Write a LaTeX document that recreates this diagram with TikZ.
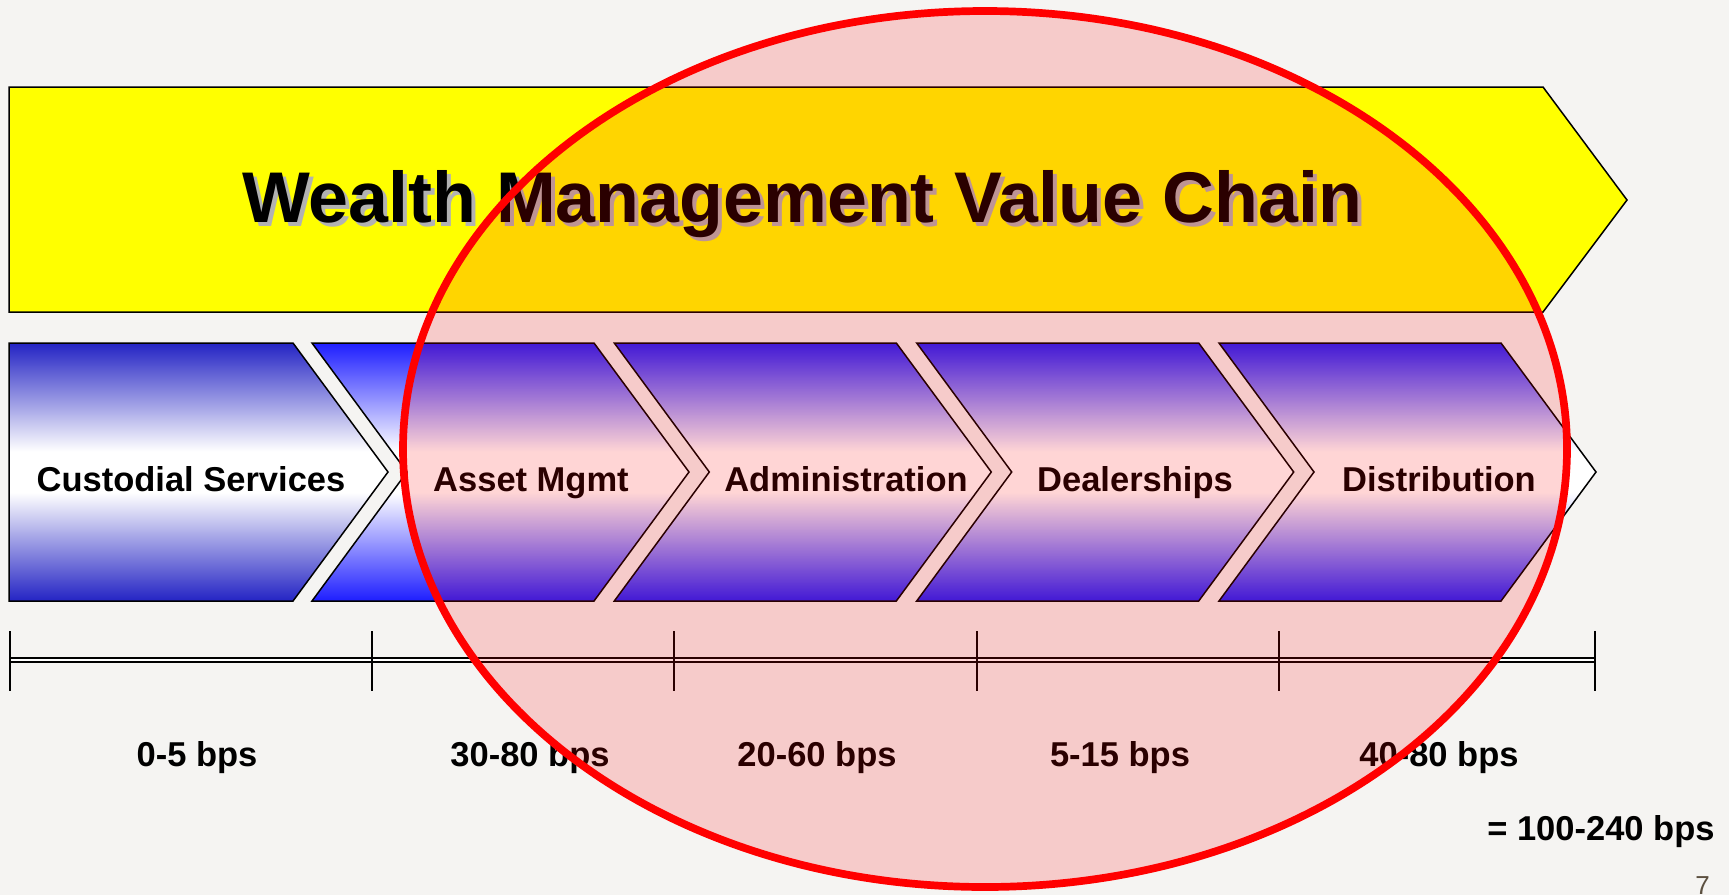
\documentclass[tikz,border=0pt]{standalone}
\usepackage{fontspec}
\setmainfont{Liberation Sans}
\definecolor{bgc}{RGB}{245,244,242}
\definecolor{yel}{RGB}{255,255,0}
\definecolor{custblue}{RGB}{36,36,196}
\definecolor{chevblue}{RGB}{30,30,255}
\definecolor{shadowgray}{RGB}{178,178,178}
\definecolor{pagenum}{RGB}{92,80,64}
\pgfdeclareverticalshading{custshade}{100bp}{color(0bp)=(custblue); color(25bp)=(custblue); color(46bp)=(white); color(54bp)=(white); color(75bp)=(custblue); color(100bp)=(custblue)}
\pgfdeclareverticalshading{chevshade}{100bp}{color(0bp)=(chevblue); color(25bp)=(chevblue); color(46bp)=(white); color(54bp)=(white); color(75bp)=(chevblue); color(100bp)=(chevblue)}
\begin{document}
\begin{tikzpicture}[x=0.5pt, y=-0.5pt,
  chevbox/.style={draw=black, line width=0.75pt, shading=chevshade},
  lbl/.style={anchor=base, inner sep=0pt, font=\fontsize{17.25pt}{20pt}\selectfont\bfseries},
  titletxt/.style={anchor=base, inner sep=0pt, font=\fontsize{35.9pt}{40pt}\selectfont\bfseries},
  tick/.style={line width=1pt}]
\useasboundingbox (0,0) rectangle (1729,895);
\fill[bgc] (0,0) rectangle (1729,895);
% big yellow arrow
\filldraw[fill=yel, draw=black, line width=0.75pt] (9,87) -- (1543,87) -- (1627,200) -- (1543,312) -- (9,312) -- cycle;
\node[titletxt, text=shadowgray] (titleshadow) at (806,226) {Wealth Management Value Chain};
\node[titletxt] (title) at (802,222) {Wealth Management Value Chain};
% chevrons
\shadedraw[draw=black, line width=0.75pt, shading=custshade] (9,343) -- (293,343) -- (388,472) -- (293,601) -- (9,601) -- cycle;
\foreach \L in {312,614.3,916.7,1219}{
  \shadedraw[chevbox] (\L,343) -- ({\L+282},343) -- ({\L+377},472) -- ({\L+282},601) -- (\L,601) -- ({\L+95},472) -- cycle;
}
\node[lbl] (cust) at (191,491) {Custodial Services};
\node[lbl] (asset) at (531,491) {Asset Mgmt};
\node[lbl] (admin) at (846,491) {Administration};
\node[lbl] (deal) at (1135,491) {Dealerships};
\node[lbl] (dist) at (1439,491) {Distribution};
% timeline
\coordinate (t0) at (9.6,660);
\coordinate (t1) at (372,660);
\coordinate (t2) at (674,660);
\coordinate (t3) at (977,660);
\coordinate (t4) at (1279,660);
\coordinate (t5) at (1595,660);
\draw[line width=1pt, double=white, double distance=1.25pt] (t0) -- (t5);
\foreach \t in {t0,t1,t2,t3,t4,t5}{
  \draw[tick] ([yshift=14.5pt]\t) -- ([yshift=-15.5pt]\t);
}
\node[lbl] (b1) at (197,766) {0-5 bps};
\node[lbl] (b2) at (530,766) {30-80 bps};
\node[lbl] (b3) at (817,766) {20-60 bps};
\node[lbl] (b4) at (1120,766) {5-15 bps};
\node[lbl] (b5) at (1439,766) {40-80 bps};
\node[lbl, anchor=base east] (total) at (1715,840) {= 100-240 bps};
\node[anchor=base west, inner sep=0pt, text=pagenum, font=\fontsize{13pt}{15pt}\selectfont] (page) at (1695,894) {7};
% red ellipse overlay
\draw[red, line width=3.85pt, fill=red, fill opacity=0.165] (985,449) ellipse [x radius=291pt, y radius=219pt];
\end{tikzpicture}
\end{document}
